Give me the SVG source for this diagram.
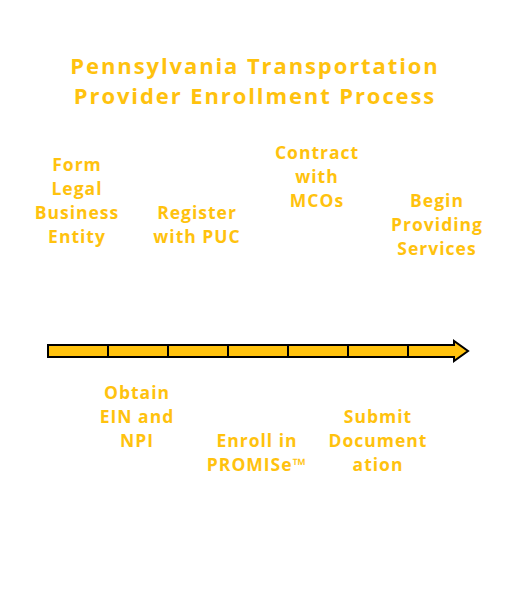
<svg xmlns="http://www.w3.org/2000/svg" width="522" height="606" viewBox="0 0 522 606">
<style>
.t{font-family:"Open Sans","Noto Sans",sans-serif;font-weight:700;fill:#FFC20E;text-anchor:middle;dominant-baseline:central}
.title{font-size:22px;letter-spacing:1.9px}
.lbl{font-size:17.5px;letter-spacing:1px}
.seg{fill:#FFC20E;stroke:#000;stroke-width:2}
</style>
<rect width="522" height="606" fill="#fff"/>
<g id="title">
<text class="t title" x="255" y="65">Pennsylvania Transportation</text>
<text class="t title" x="255" y="95">Provider Enrollment Process</text>
</g>
<g id="connectors">
<path class="seg" d="M48,345 H454 V341 L468,351 L454,361 V357 H48 Z"/>
<path d="M108,345V357M168,345V357M228,345V357M288,345V357M348,345V357M408,345V357" stroke="#000" stroke-width="2" fill="none"/>
</g>
<g id="n1"><text class="t lbl" x="77" y="164">Form</text><text class="t lbl" x="77" y="188">Legal</text><text class="t lbl" x="77" y="212">Business</text><text class="t lbl" x="77" y="236">Entity</text></g>
<g id="n2"><text class="t lbl" x="137" y="392">Obtain</text><text class="t lbl" x="137" y="416">EIN and</text><text class="t lbl" x="137" y="440">NPI</text></g>
<g id="n3"><text class="t lbl" x="197" y="212">Register</text><text class="t lbl" x="197" y="236">with PUC</text></g>
<g id="n4"><text class="t lbl" x="257" y="440">Enroll in</text><text class="t lbl" x="257" y="464">PROMISe™</text></g>
<g id="n5"><text class="t lbl" x="317" y="152">Contract</text><text class="t lbl" x="317" y="176">with</text><text class="t lbl" x="317" y="200">MCOs</text></g>
<g id="n6"><text class="t lbl" x="378" y="416">Submit</text><text class="t lbl" x="378" y="440">Document</text><text class="t lbl" x="378" y="464">ation</text></g>
<g id="n7"><text class="t lbl" x="437" y="200">Begin</text><text class="t lbl" x="437" y="224">Providing</text><text class="t lbl" x="437" y="248">Services</text></g>
</svg>
